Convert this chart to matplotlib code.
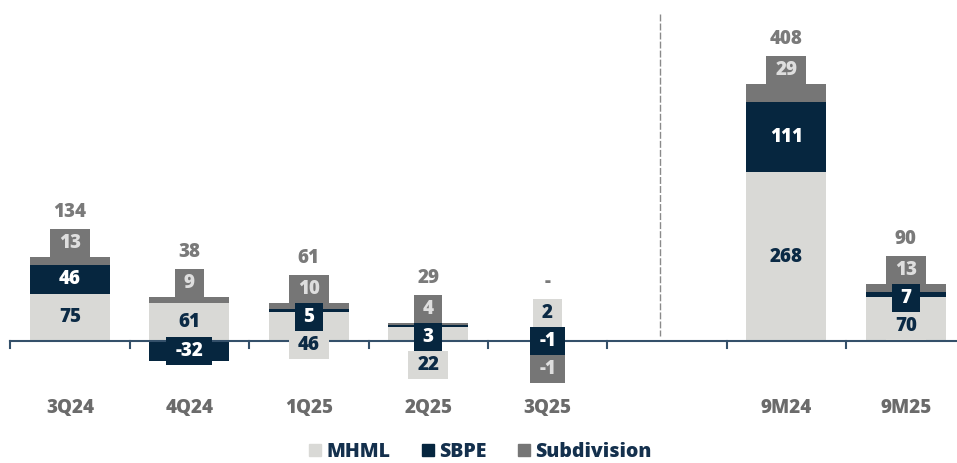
import matplotlib.pyplot as plt
from matplotlib.patches import Rectangle
from matplotlib.lines import Line2D

plt.rcParams['font.family'] = ['Open Sans', 'DejaVu Sans']

categories = ['3Q24', '4Q24', '1Q25', '2Q25', '3Q25', '9M24', '9M25']
positions = [0, 1, 2, 3, 4, 6, 7]
mhml = [75, 61, 46, 22, 2, 268, 70]
sbpe = [46, -32, 5, 3, -1, 111, 7]
subdivision = [13, 9, 10, 4, -1, 29, 13]
totals = ['134', '38', '61', '29', '-', '408', '90']

series = [('MHML', mhml), ('SBPE', sbpe), ('Subdivision', subdivision)]
colors = {'MHML': '#d9d9d6', 'SBPE': '#06263f', 'Subdivision': '#767676'}
text_colors = {'MHML': '#0b2a45', 'SBPE': '#ffffff', 'Subdivision': '#dedede'}

W, H = 957, 463
fig = plt.figure(figsize=(W / 100, H / 100), dpi=100)
ax = fig.add_axes([0, 0, 1, 1])
ax.axis('off')

# map pixels of the reference to data coordinates
x0, dx = 70, 119.4
y0, ppu = 341, 0.63
ax.set_xlim(-x0 / dx, (W - x0) / dx)
ax.set_ylim((y0 - H) / ppu, y0 / ppu)

def vy(py):
    return (y0 - py) / ppu

bw = 80 / dx
box_h = 28 / ppu
fs = 13.5

def box_w(s):
    return (17 + sum(6 if c == '-' else 11.5 for c in s)) / dx

for i, p in enumerate(positions):
    pos_base, neg_base = 0, 0
    labels = []
    for name, vals in series:
        v = vals[i]
        if v >= 0:
            ax.bar(p, v, bw, bottom=pos_base, color=colors[name], zorder=2)
            labels.append([pos_base + v / 2, name, str(v)])
            pos_base += v
        else:
            ax.bar(p, v, bw, bottom=neg_base, color=colors[name], zorder=2)
            labels.append([neg_base + v / 2, name, str(v)])
            neg_base += v

    labels.sort(key=lambda l: -l[0])
    centers = []
    if subdivision[i] >= 0:
        # top box sits on the stack, the others are pushed down below it
        prev = pos_base + box_h / 2
        centers.append(prev)
        for l in labels[1:]:
            prev = min(l[0], prev - box_h)
            centers.append(prev)
    else:
        # spread the boxes around the mean of the segment centres
        m = sum(l[0] for l in labels) / len(labels)
        start = m + len(labels) * box_h / 2
        centers = [start - box_h * (j + 0.5) for j in range(len(labels))]

    top = pos_base
    for cy, (_, name, s) in zip(centers, labels):
        w = box_w(s)
        ax.add_patch(Rectangle((p - w / 2, cy - box_h / 2), w, box_h,
                               color=colors[name], zorder=4, lw=0))
        ax.text(p, cy, s, ha='center', va='center', fontsize=fs,
                fontweight='heavy', color=text_colors[name], zorder=5)
        top = max(top, cy + box_h / 2)
    ax.text(p, top + 17 / ppu, totals[i], ha='center', va='center',
            fontsize=fs, fontweight='heavy', color='#7a7a7a')
    ax.text(p, vy(408), categories[i], ha='center', va='center',
            fontsize=fs, fontweight='heavy', color='#6b6b6b')

# axis line with ticks between categories
ax.plot([-0.5, (W - x0) / dx], [0, 0], color='#34506a', lw=1.5, zorder=3)
for t in [-0.5, 0.5, 1.5, 2.5, 3.5, 4.5, 5.5, 6.5]:
    ax.plot([t, t], [0, vy(348)], color='#34506a', lw=1.5, zorder=3)

# separator between quarters and 9M
ax.plot([(660 - x0) / dx] * 2, [vy(14), vy(336)], color='#8a8a8a',
        lw=1, ls=(0, (5, 1.5)), zorder=1)

handles = [Line2D([], [], marker='s', ls='', markersize=8, color=colors[n])
           for n, _ in series]
fig.legend(handles, [n for n, _ in series], loc='center',
           bbox_to_anchor=(0.5, 1 - 452 / H), ncol=3, frameon=False,
           handletextpad=0.1, columnspacing=1.4, handlelength=1,
           prop={'weight': 'heavy', 'size': 14}, labelcolor='#14304d')

fig.savefig('out.png', dpi=100)
